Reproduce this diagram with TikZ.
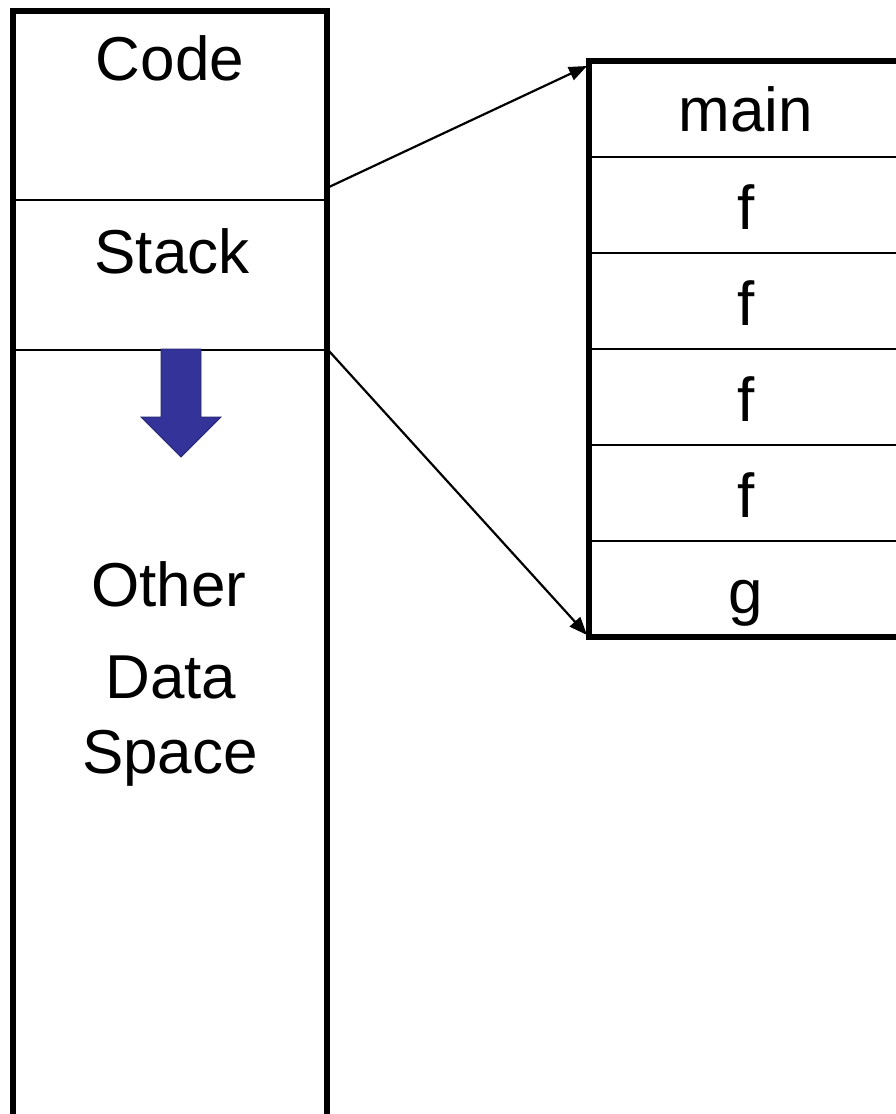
\documentclass[tikz,border=0pt]{standalone}
\usepackage{fontspec}
\setmainfont{Liberation Sans}
\usetikzlibrary{arrows.meta}
\definecolor{growblue}{HTML}{333399}
\definecolor{growedge}{HTML}{26266F}
\begin{document}
\begin{tikzpicture}[x=1pt,y=-1pt,
  outline/.style={line width=5.5pt},
  divider/.style={line width=2.5pt},
  pointer/.style={line width=2.2pt,-{Triangle[length=18pt,width=14pt]}},
  lbl/.style={anchor=base,inner sep=0pt,font=\fontsize{62}{74}\selectfont},
  growarrow/.style={fill=growblue,draw=growedge,line width=0.8pt}]
\clip (0,0) rectangle (896,1114);

% memory layout column
\draw[outline] (13,1130) -- (13,11) -- (327,11) -- (327,1130);
\draw[divider] (13,200) -- (327,200);
\draw[divider] (13,350) -- (327,350);
\node[lbl] (code) at (170,80) {Code};
\node[lbl] (stack) at (172,273) {Stack};
\node[lbl] (other) at (169,606) {Other};
\node[lbl] (data) at (171,698) {Data};
\node[lbl] (space) at (170,773) {Space};

% stack growth direction
\draw[growarrow] (161,349) -- (201,349) -- (201,417) -- (221,417)
  -- (181,457) -- (141,417) -- (161,417) -- cycle;

% expanded call stack frames
\draw[outline] (920,61) -- (589,61) -- (589,637) -- (920,637);
\foreach \y in {157,253,349,445,541}
  \draw[divider] (589,\y) -- (920,\y);
\node[lbl] (fmain) at (746,131) {main};
\node[lbl] (f1) at (746,229) {f};
\node[lbl] (f2) at (746,325) {f};
\node[lbl] (f3) at (746,421) {f};
\node[lbl] (f4) at (746,517) {f};
\node[lbl] (g) at (746,613) {g};

% zoom pointers from the stack segment to the frames
\coordinate (stacktop) at (329,187);
\coordinate (stackbot) at (329,351);
\coordinate (framestop) at (587,66);
\coordinate (framesbot) at (587,635);
\draw[pointer] (stacktop) -- (framestop);
\draw[pointer] (stackbot) -- (framesbot);
\end{tikzpicture}
\end{document}
